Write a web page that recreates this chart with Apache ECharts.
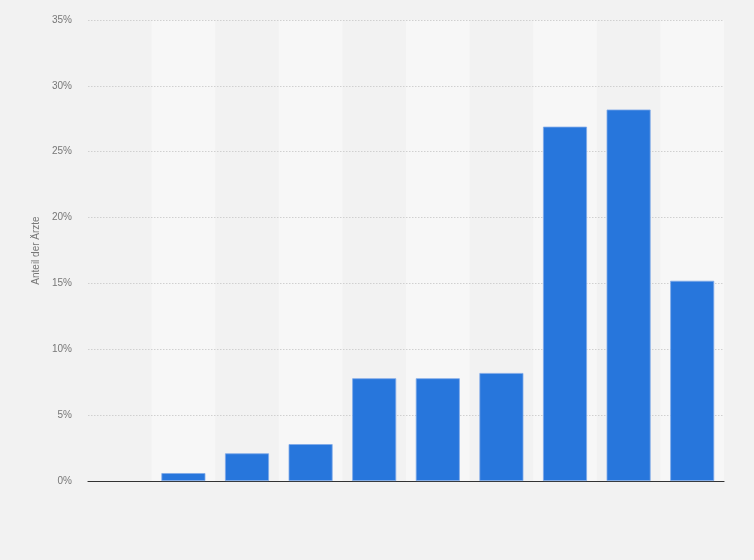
<!DOCTYPE html>
<html>
<head>
<meta charset="utf-8">
<script src="https://cdn.jsdelivr.net/npm/echarts@6/dist/echarts.min.js"></script>
<style>
html,body{margin:0;padding:0;background:#f2f2f2;}
#chart{width:754px;height:560px;}
</style>
</head>
<body>
<div id="chart"></div>
<script>
const categories = ['1', '2', '3', '4', '5', '6', '7', '8', '9', '10'];
const shares = [null, 0.6, 2.1, 2.8, 7.8, 7.8, 8.2, 26.9, 28.2, 15.2];
const yTicks = { min: 0, max: 35, interval: 5 };
const yAxisTitle = 'Anteil der Ärzte';

const chart = echarts.init(document.getElementById('chart'));
chart.setOption({
  backgroundColor: '#f2f2f2',
  animation: false,
  grid: { left: 88, right: 30, top: 20, bottom: 79 },
  xAxis: {
    type: 'category',
    data: categories,
    z: 0,
    axisLabel: { show: false },
    axisTick: { show: false },
    axisLine: { show: true, lineStyle: { color: '#333', width: 1.2 } },
    splitArea: { show: true, areaStyle: { color: ['rgba(0,0,0,0)', '#f7f7f7'] } }
  },
  yAxis: {
    type: 'value',
    z: 1,
    min: yTicks.min,
    max: yTicks.max,
    interval: yTicks.interval,
    name: yAxisTitle,
    nameLocation: 'middle',
    nameGap: 46,
    nameTextStyle: { color: '#777', fontSize: 10, fontFamily: 'Liberation Sans, Arial, sans-serif' },
    axisLine: { show: false },
    axisTick: { show: false },
    axisLabel: { formatter: '{value}%', color: '#777', fontSize: 10, margin: 16, fontFamily: 'Liberation Sans, Arial, sans-serif' },
    splitLine: { show: true, showMinLine: false, lineStyle: { color: '#d0d0d0', type: [1.5, 1.5], width: 1 } }
  },
  series: [{
    type: 'bar',
    data: shares,
    barWidth: 44,
    z: 3,
    itemStyle: { color: '#2776dc', borderColor: '#7fa9e8', borderWidth: 0.8 }
  }]
});
</script>
</body>
</html>
